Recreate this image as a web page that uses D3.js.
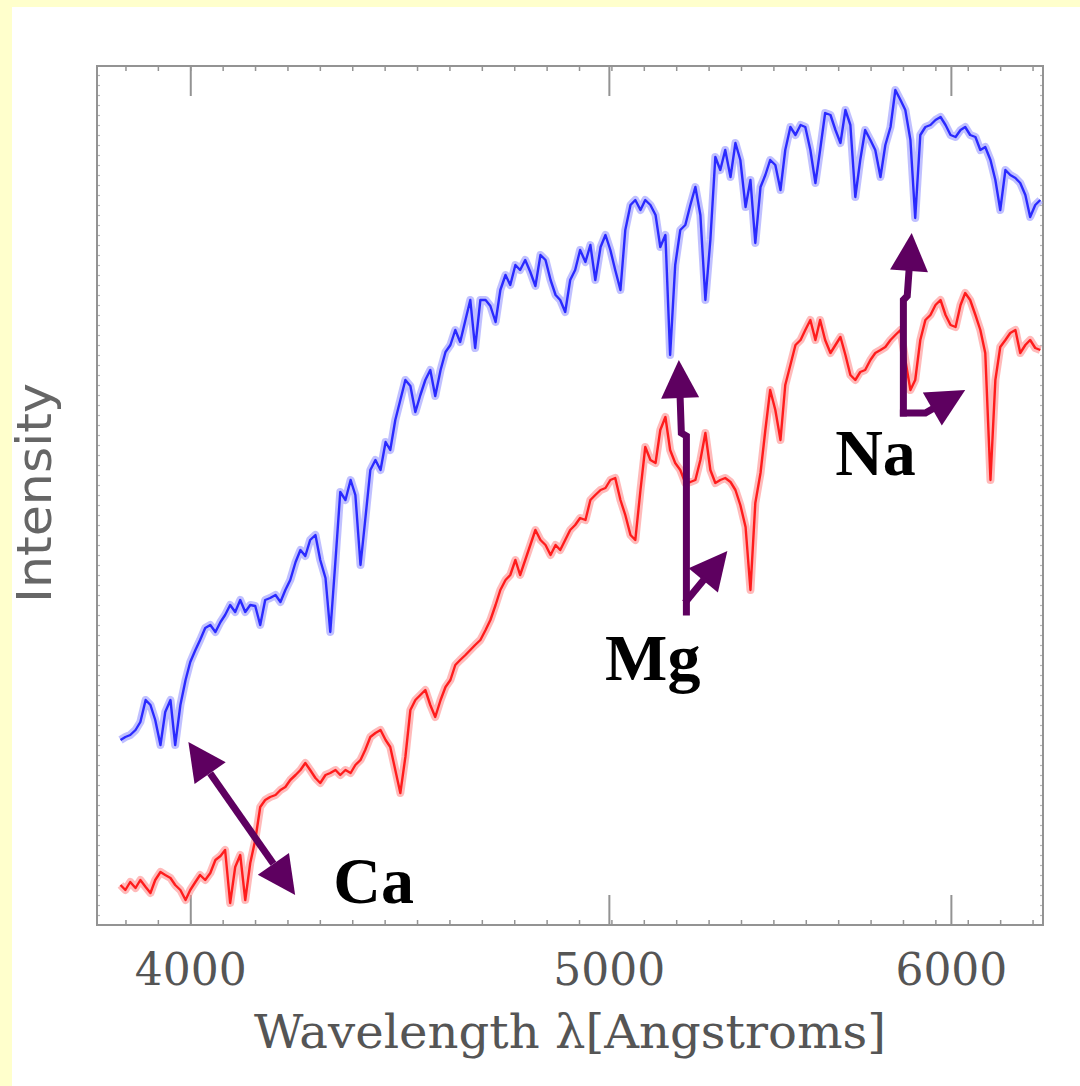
<!DOCTYPE html>
<html>
<head>
<meta charset="utf-8">
<script src="https://cdn.jsdelivr.net/npm/d3@7"></script>
<style>
  html, body { margin: 0; padding: 0; background: #ffffcc; }
  svg { display: block; }
</style>
</head>
<body>
<svg id="chart" width="1080" height="1086"></svg>
<script>
// Wavelength grid (Angstroms), shared by both spectra
const wavelength = [
  3854,3864,3874,3885,3895,3906,3916,3926,3937,3947,3958,
  3968,3979,3990,4000,4011,4021,4032,4043,4054,4065,
  4075,4086,4097,4108,4119,4130,4141,4152,4163,4174,
  4186,4197,4208,4219,4231,4242,4253,4264,4276,4287,
  4299,4310,4322,4333,4345,4357,4368,4380,4391,4403,
  4415,4427,4439,4450,4462,4474,4486,4498,4510,4522,
  4534,4546,4558,4571,4583,4595,4607,4619,4632,4644,
  4656,4669,4682,4694,4707,4719,4732,4744,4757,4769,
  4782,4795,4808,4821,4834,4847,4860,4872,4885,4898,
  4911,4924,4938,4951,4964,4978,4991,5004,5017,5031,
  5044,5058,5071,5085,5098,5112,5126,5139,5153,5166,
  5180,5194,5208,5222,5236,5250,5264,5278,5292,5306,
  5320,5335,5349,5363,5378,5392,5406,5421,5435,5449,
  5464,5479,5493,5508,5523,5538,5552,5567,5582,5596,
  5611,5627,5642,5657,5672,5687,5702,5717,5732,5748,
  5763,5779,5794,5810,5825,5841,5856,5872,5887,5903,
  5919,5935,5951,5967,5983,5999,6015,6031,6046,6062,
  6079,6095,6111,6128,6144,6160,6177,6193,6210,6226,
  6243,6259,6276,6293
];

// Hotter star (blue spectrum), relative intensity
const blueIntensity = [
  185,188,190,195,203,225,220,205,180,213,225,
  180,220,245,263,275,285,297,300,293,303,
  310,320,313,325,313,320,319,300,325,327,
  330,323,335,345,363,375,369,385,390,365,
  347,293,365,433,425,445,430,360,405,455,
  465,455,483,475,505,525,545,539,513,530,
  545,555,529,555,573,580,595,583,605,625,
  577,625,625,619,603,635,650,640,660,655,
  665,653,639,670,665,645,630,625,613,645,
  655,675,663,680,645,678,690,675,655,635,
  695,720,725,715,725,720,710,678,690,570,
  660,695,700,720,738,710,625,685,768,755,
  775,748,782,765,718,745,682,738,750,765,
  760,735,775,798,790,800,798,775,742,775,
  812,810,795,782,815,800,728,765,795,785,
  775,748,780,798,835,825,815,785,707,790,
  798,800,805,808,800,790,788,795,798,790,
  788,775,778,765,745,715,755,750,747,742,
  730,708,720,725
];

// Cooler star (red spectrum), relative intensity
const redIntensity = [
  40,35,43,37,45,38,32,45,53,50,47,
  40,35,25,35,43,50,45,52,65,69,
  75,22,58,70,25,62,85,118,125,128,
  130,135,138,145,150,155,162,155,147,142,
  150,152,155,150,155,152,160,165,175,188,
  192,195,185,178,155,132,168,215,225,230,
  235,220,208,225,238,245,260,265,270,275,
  280,285,295,305,320,335,345,350,365,350,
  365,380,395,385,380,370,380,375,385,395,
  400,407,405,425,430,435,437,445,447,425,
  410,390,385,435,478,465,462,495,508,475,
  462,455,442,443,445,465,492,455,442,445,
  447,443,435,420,398,335,422,452,495,535,
  515,485,540,560,580,585,595,605,585,605,
  585,572,580,588,570,550,545,553,555,565,
  572,575,578,585,590,595,565,535,545,585,
  605,610,620,625,610,600,598,620,632,625,
  610,595,572,445,545,578,585,592,595,572,
  580,585,577,575
];

const majorTicks = [4000, 5000, 6000];
const xTitle = "Wavelength \u03bb[Angstroms]";
const yTitle = "Intensity";

// Absorption-line markers: arrow paths in (wavelength, intensity)
const lineLabels = [
  { text: "Ca", at: [4317, 22] },
  { text: "Mg", at: [4990, 245] },
  { text: "Na", at: [5641, 450] }
];
const lineArrows = [
  { pts: [[3996, 183], [4230, 30]], startHead: true, endHead: true },
  { pts: [[5211, 313], [5211, 489], [5197, 492], [5190, 565]], startHead: false, endHead: true },
  { pts: [[5213, 325], [5326, 374]], startHead: false, endHead: true },
  { pts: [[5850, 512], [5850, 625], [5862, 629], [5876, 692]], startHead: false, endHead: true },
  { pts: [[5850, 512], [5919, 512], [6046, 535]], startHead: false, endHead: true }
];

const svg = d3.select("#chart");

// page background: pale yellow border with white panel
svg.append("rect").attr("x", 0).attr("y", 0).attr("width", 1080).attr("height", 1086).attr("fill", "#ffffcc");
svg.append("rect").attr("x", 12).attr("y", 7).attr("width", 1068).attr("height", 1079).attr("fill", "#ffffff");

const plot = { left: 97, right: 1043, top: 66, bottom: 925 };

const x = d3.scaleLog().domain([3806, 6302]).range([plot.left, plot.right]);
const y = d3.scaleLinear().domain([0, 859]).range([plot.bottom, plot.top]);

// minor ticks spaced evenly in log wavelength
const minorTicks = d3.range(-3, 27).map(k => 4000 * Math.pow(10, 0.0075 * k))
  .filter(v => v > 3806 && v < 6302);
const yMinor = d3.range(10, 859, 10);

const axisColor = "#939393";

function styleAxis(g) {
  g.select(".domain").remove();
  g.selectAll(".tick line").attr("stroke", axisColor).attr("stroke-width", 2);
}

// bottom axis with labels
svg.append("g")
  .attr("transform", `translate(0,${plot.bottom})`)
  .call(d3.axisBottom(x).tickValues(majorTicks).tickSize(-30).tickPadding(28).tickFormat(d3.format("d")))
  .call(styleAxis)
  .call(g => g.selectAll(".tick text")
    .attr("fill", "#555555")
    .attr("font-family", "'DejaVu Serif', serif")
    .attr("font-size", 45)
    .attr("textLength", 112)
    .attr("lengthAdjust", "spacingAndGlyphs"));
svg.append("g")
  .attr("transform", `translate(0,${plot.bottom})`)
  .call(d3.axisBottom(x).tickValues(minorTicks).tickSize(-5).tickFormat(""))
  .call(styleAxis)
  .call(g => g.selectAll(".tick line").attr("stroke-width", 1.5));

// top axis, ticks only
svg.append("g")
  .attr("transform", `translate(0,${plot.top})`)
  .call(d3.axisTop(x).tickValues(majorTicks).tickSize(-30).tickFormat(""))
  .call(styleAxis);
svg.append("g")
  .attr("transform", `translate(0,${plot.top})`)
  .call(d3.axisTop(x).tickValues(minorTicks).tickSize(-5).tickFormat(""))
  .call(styleAxis)
  .call(g => g.selectAll(".tick line").attr("stroke-width", 1.5));

// left and right edges, small ticks only
svg.append("g")
  .attr("transform", `translate(${plot.left},0)`)
  .call(d3.axisLeft(y).tickValues(yMinor).tickSize(-3).tickFormat(""))
  .call(styleAxis)
  .call(g => g.selectAll(".tick line").attr("stroke-width", 1.2).attr("stroke", "#b5b5b5"));
svg.append("g")
  .attr("transform", `translate(${plot.right},0)`)
  .call(d3.axisRight(y).tickValues(yMinor).tickSize(-3).tickFormat(""))
  .call(styleAxis)
  .call(g => g.selectAll(".tick line").attr("stroke-width", 1.2).attr("stroke", "#b5b5b5"));

// frame
svg.append("rect")
  .attr("x", plot.left).attr("y", plot.top)
  .attr("width", plot.right - plot.left).attr("height", plot.bottom - plot.top)
  .attr("fill", "none").attr("stroke", axisColor).attr("stroke-width", 2);

// spectra: soft halo under a crisp core line
const line = d3.line().x(d => x(d[0])).y(d => y(d[1]));
const blueData = wavelength.map((w, i) => [w, blueIntensity[i]]);
const redData = wavelength.map((w, i) => [w, redIntensity[i]]);

function drawSpectrum(data, halo, core) {
  svg.append("path").attr("d", line(data)).attr("fill", "none")
    .attr("stroke", halo).attr("stroke-width", 8).attr("stroke-linejoin", "round");
  svg.append("path").attr("d", line(data)).attr("fill", "none")
    .attr("stroke", core).attr("stroke-width", 2.4).attr("stroke-linejoin", "round");
}
drawSpectrum(blueData, "rgba(150,150,255,0.6)", "#2a2aff");
drawSpectrum(redData, "rgba(255,140,140,0.6)", "#ff1c1c");

// axis titles
svg.append("text")
  .attr("x", (plot.left + plot.right) / 2).attr("y", 1048)
  .attr("text-anchor", "middle")
  .attr("font-family", "'DejaVu Serif', serif").attr("font-size", 46)
  .attr("fill", "#555555")
  .attr("textLength", 632).attr("lengthAdjust", "spacingAndGlyphs")
  .text(xTitle);

svg.append("text")
  .attr("transform", "translate(51,493) rotate(-90)")
  .attr("text-anchor", "middle")
  .attr("font-family", "'DejaVu Sans', sans-serif").attr("font-size", 48)
  .attr("fill", "#666666")
  .attr("textLength", 220).attr("lengthAdjust", "spacingAndGlyphs")
  .text(yTitle);

// arrows marking absorption lines
const purple = "#5e0060";
const headLen = 38, headHalf = 19;

function headPoints(tip, from) {
  const dx = tip[0] - from[0], dy = tip[1] - from[1];
  const len = Math.hypot(dx, dy);
  const ux = dx / len, uy = dy / len;
  const bx = tip[0] - ux * headLen, by = tip[1] - uy * headLen;
  return {
    base: [bx, by],
    tri: [tip, [bx - uy * headHalf, by + ux * headHalf], [bx + uy * headHalf, by - ux * headHalf]]
  };
}

lineArrows.forEach(a => {
  const p = a.pts.map(d => [x(d[0]), y(d[1])]);
  const shaft = p.slice();
  if (a.endHead) {
    const h = headPoints(p[p.length - 1], p[p.length - 2]);
    shaft[shaft.length - 1] = h.base;
    svg.append("polygon").attr("points", h.tri.map(q => q.join(",")).join(" ")).attr("fill", purple);
  }
  if (a.startHead) {
    const h = headPoints(p[0], p[1]);
    shaft[0] = h.base;
    svg.append("polygon").attr("points", h.tri.map(q => q.join(",")).join(" ")).attr("fill", purple);
  }
  svg.append("path")
    .attr("d", d3.line()(shaft))
    .attr("fill", "none").attr("stroke", purple).attr("stroke-width", 7)
    .attr("stroke-linecap", a.startHead ? "butt" : "square").attr("stroke-linejoin", "miter");
});

svg.selectAll("text.element")
  .data(lineLabels)
  .join("text")
  .attr("class", "element")
  .attr("x", d => x(d.at[0])).attr("y", d => y(d.at[1]))
  .attr("font-family", "'Liberation Serif', 'Times New Roman', serif")
  .attr("font-weight", "bold").attr("font-size", 66)
  .attr("fill", "#000")
  .text(d => d.text);
</script>
</body>
</html>
